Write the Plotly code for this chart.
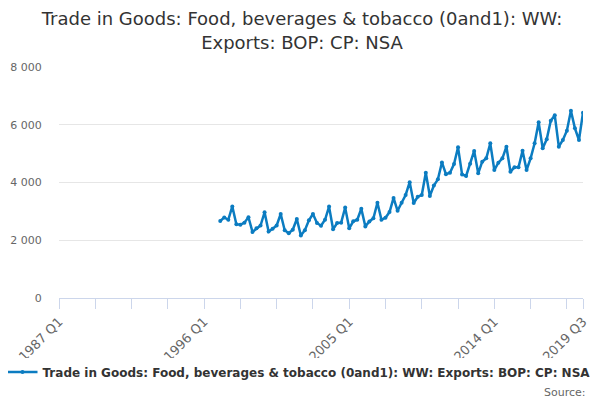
"""Trade in Goods: Food, beverages & tobacco exports, quarterly."""

import plotly.graph_objects as go

# quarterly values, 1997 Q1 to 2019 Q3 (GBP million)
first_year = 1997
values = [
    2665, 2790, 2710, 3170,
    2555, 2535, 2610, 2795,
    2290, 2413, 2510, 2970,
    2300, 2400, 2510, 2910,
    2345, 2245, 2365, 2735,
    2165, 2350, 2690, 2910,
    2600, 2505, 2710, 3165,
    2380, 2595, 2610, 3130,
    2413, 2655, 2712, 3090,
    2480, 2650, 2760, 3300,
    2710, 2780, 2975, 3465,
    3020, 3300, 3567, 4010,
    3290, 3508, 3567, 4340,
    3532, 3895, 4110, 4695,
    4290, 4340, 4640, 5218,
    4280, 4225, 4650, 5095,
    4318, 4720, 4837, 5357,
    4432, 4686, 4837, 5240,
    4374, 4525, 4525, 5100,
    4432, 4837, 5357, 6084,
    5184, 5496, 6140, 6327,
    5240, 5471, 5794, 6486,
    5877, 5471, 6417,
]

# the axis runs from 1987 Q1, years before the data have no values
axis_start = 1987
quarters = [f"{y} Q{q}" for y in range(axis_start, 2020) for q in range(1, 5)]
quarters = quarters[: quarters.index("2019 Q3") + 1]
offset = quarters.index(f"{first_year} Q1")
series = [None] * offset + values

tick_labels = ["1987 Q1", "1996 Q1", "2005 Q1", "2014 Q1", "2019 Q3"]
tick_positions = quarters[::9] + ["2019 Q3"]
tick_text = [q if q in tick_labels else "" for q in tick_positions]

y_ticks = [0, 2000, 4000, 6000, 8000]
y_text = ["0", "2 000", "4 000", "6 000", "8 000"]

name = "Trade in Goods: Food, beverages & tobacco (0and1): WW: Exports: BOP: CP: NSA"
blue = "#0b7cc1"
font = "DejaVu Sans"

fig = go.Figure()
fig.add_trace(
    go.Scatter(
        x=quarters,
        y=series,
        name=name,
        mode="lines+markers",
        line=dict(color=blue, width=2.5),
        marker=dict(color=blue, size=4),
        connectgaps=False,
    )
)

# the page body adds an 8px offset, so margins are shifted to compensate
fig.update_layout(
    width=600,
    height=400,
    margin=dict(l=51, r=25, t=59, b=110, autoexpand=False),
    paper_bgcolor="white",
    plot_bgcolor="white",
    font=dict(family=font, color="#666666", size=11),
    title=dict(
        text="Trade in Goods: Food, beverages & tobacco (0and1): WW:<br>Exports: BOP: CP: NSA",
        x=0.49,
        xanchor="center",
        y=0.957,
        yanchor="middle",
        font=dict(family=font, size=18, color="#333333"),
    ),
    showlegend=True,
    legend=dict(
        orientation="h",
        xref="container",
        yref="container",
        x=0.485,
        xanchor="center",
        y=0.09,
        yanchor="middle",
        font=dict(family=font, size=12, color="#333333", weight="bold"),
        itemwidth=30,
    ),
    annotations=[
        dict(
            text="Source:",
            xref="paper",
            yref="paper",
            x=1.0095,
            y=-0.407,
            xanchor="right",
            yanchor="middle",
            showarrow=False,
            font=dict(family=font, size=11, color="#666666"),
        )
    ],
)

fig.update_xaxes(
    type="category",
    range=[0, len(quarters) - 1],
    tickmode="array",
    tickvals=tick_positions,
    ticktext=tick_text,
    tickangle=-45,
    ticks="outside",
    ticklen=10,
    tickcolor="#ccd6eb",
    showline=True,
    linecolor="#ccd6eb",
    showgrid=False,
    automargin=False,
    tickfont=dict(size=13, color="#666666"),
)

fig.update_yaxes(
    range=[0, 8000],
    tickmode="array",
    tickvals=y_ticks,
    ticktext=y_text,
    showgrid=True,
    gridcolor="#e6e6e6",
    zeroline=False,
    showline=False,
    ticks="outside",
    ticklen=14,
    tickcolor="rgba(0,0,0,0)",
    automargin=False,
    tickfont=dict(size=11, color="#666666"),
)

fig.write_html("out.html")
